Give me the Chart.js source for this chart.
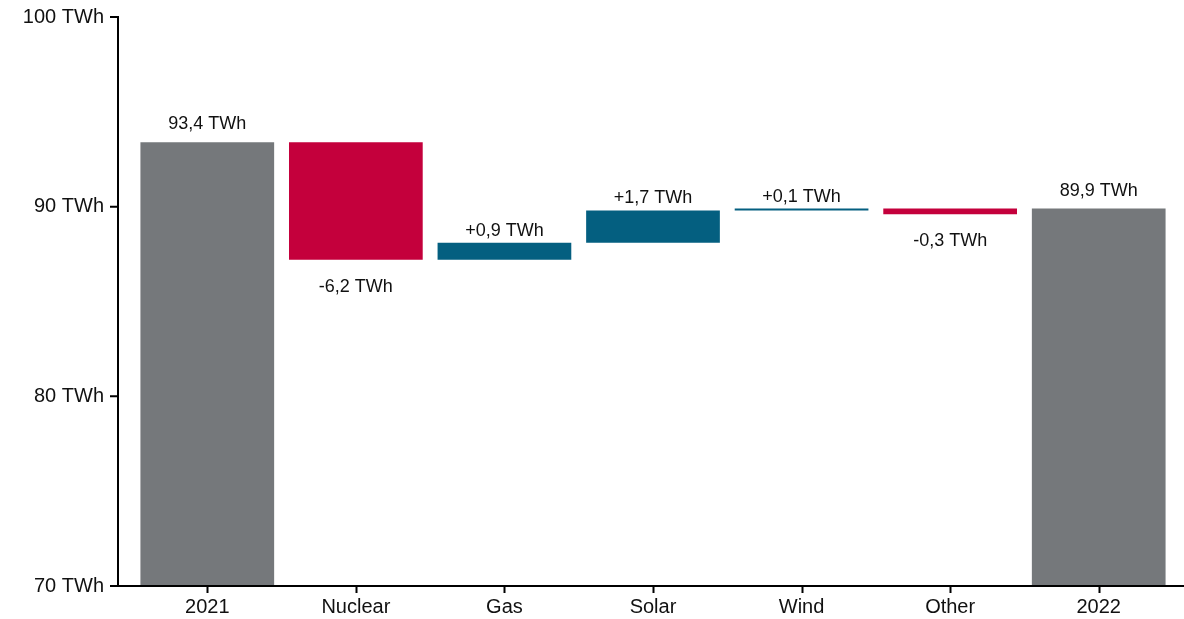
<!DOCTYPE html>
<html>
<head>
<meta charset="utf-8">
<script src="https://cdn.jsdelivr.net/npm/chart.js@4.4.0/dist/chart.umd.min.js"></script>
<style>
  html, body { margin: 0; padding: 0; background: #fff; }
  #wrap { width: 1184px; height: 619px; }
</style>
</head>
<body>
<div id="wrap"><canvas id="waterfall_chart"></canvas></div>
<script>
const categories = ['2021', 'Nuclear', 'Gas', 'Solar', 'Wind', 'Other', '2022'];
const startTotal = 93.4;
const changes = [-6.2, 0.9, 1.7, 0.1, -0.3];
const endTotal = 89.9;
const yTicks = [70, 80, 90, 100];

const grey = '#75787B';
const red = '#C4003C';
const teal = '#045F80';

const fmt = v => v.toFixed(1).replace('.', ',') + ' TWh';

// totals stand on the axis, changes float on the running total
let running = startTotal;
const bars = [startTotal];
const barColors = [grey];
const barLabels = [fmt(startTotal)];
const barKinds = ['total'];
changes.forEach(c => {
    const next = Math.round((running + c) * 10) / 10;
    bars.push([running, next]);
    barColors.push(c < 0 ? red : teal);
    barLabels.push((c < 0 ? '-' : '+') + fmt(Math.abs(c)));
    barKinds.push(c < 0 ? 'down' : 'up');
    running = next;
});
bars.push(endTotal);
barColors.push(grey);
barLabels.push(fmt(endTotal));
barKinds.push('total');

const FONT = 'Arial, "Liberation Sans", sans-serif';

const axisLines = {
    id: 'axisLines',
    afterDatasetsDraw(chart) {
        const ctx = chart.ctx;
        const area = chart.chartArea;
        const xs = chart.scales.x, ys = chart.scales.y;
        const axisX = area.left - 15;
        ctx.save();
        ctx.strokeStyle = '#000';
        ctx.lineWidth = 2;
        ctx.beginPath();
        ctx.moveTo(axisX, ys.getPixelForValue(100) - 1);
        ctx.lineTo(axisX, area.bottom);
        ctx.lineTo(chart.width, area.bottom);
        yTicks.forEach(t => {
            const py = ys.getPixelForValue(t);
            ctx.moveTo(axisX - 8, py);
            ctx.lineTo(axisX, py);
        });
        categories.forEach((c, i) => {
            const px = Math.round(xs.getPixelForTick(i)) + 0.5;
            ctx.moveTo(px, area.bottom);
            ctx.lineTo(px, area.bottom + 7);
        });
        ctx.stroke();
        ctx.restore();
    }
};

const barValueLabels = {
    id: 'barValueLabels',
    afterDatasetsDraw(chart) {
        const ctx = chart.ctx;
        const meta = chart.getDatasetMeta(0);
        ctx.save();
        ctx.font = '18px ' + FONT;
        ctx.fillStyle = '#111';
        ctx.textAlign = 'center';
        ctx.textBaseline = 'middle';
        meta.data.forEach((bar, i) => {
            const p = bar.getProps(['x', 'y', 'base'], true);
            const top = Math.min(p.y, p.base);
            const bottom = Math.max(p.y, p.base);
            let ty;
            if (barKinds[i] === 'total') ty = top - 18;
            else if (barKinds[i] === 'up') ty = top - 12;
            else ty = bottom + 27;
            ctx.fillText(barLabels[i], p.x, ty);
        });
        ctx.restore();
    }
};

let ctxEl = document.getElementById('waterfall_chart').getContext('2d');
let waterfall_chart = new Chart(ctxEl, {
    type: 'bar',
    data: {
        labels: categories,
        datasets: [{
            label: 'Electricity',
            data: bars,
            backgroundColor: barColors,
            borderWidth: 0,
            categoryPercentage: 1,
            barPercentage: 0.9
        }]
    },
    options: {
        responsive: true,
        maintainAspectRatio: false,
        animation: false,
        layout: { padding: { top: 17, right: 11, bottom: 0, left: 0 } },
        plugins: {
            legend: { display: false },
            tooltip: { enabled: false }
        },
        scales: {
            x: {
                afterFit: s => { s.height = 33; s.paddingLeft = 0; s.paddingRight = 0; },
                grid: { display: false },
                border: { display: false },
                ticks: { color: '#111', font: { family: FONT, size: 20 }, padding: 1, maxRotation: 0 }
            },
            y: {
                min: 70,
                max: 100,
                afterFit: s => { s.width = 133; s.paddingTop = 0; s.paddingBottom = 0; },
                afterBuildTicks: s => { s.ticks = yTicks.map(v => ({ value: v })); },
                grid: { display: false },
                border: { display: false },
                ticks: {
                    color: '#111',
                    font: { family: FONT, size: 20 },
                    padding: 21,
                    callback: v => v + ' TWh'
                }
            }
        }
    },
    plugins: [axisLines, barValueLabels]
});
</script>
</body>
</html>
